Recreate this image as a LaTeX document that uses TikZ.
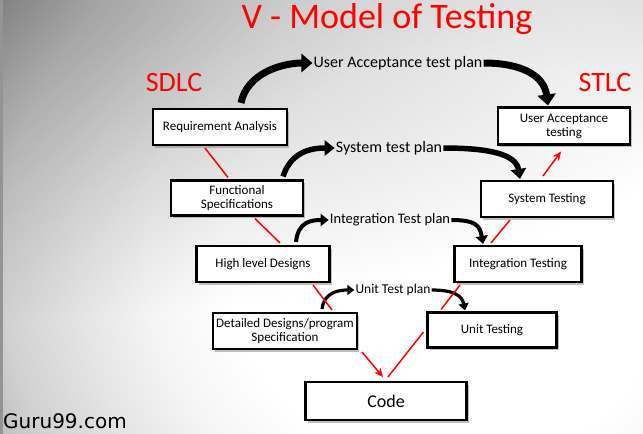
\documentclass[tikz,border=0pt]{standalone}
\usepackage{fontspec}
\setmainfont{Carlito}
\newfontfamily\gurufont{DejaVu Sans}
\usetikzlibrary{arrows.meta,shadows,fadings}
\tikzfading[name=cornerfade, inner color=transparent!0, outer color=transparent!100]
\pgfdeclareradialshading{vignette}{\pgfpoint{0bp}{0bp}}{color(0bp)=(white); color(20bp)=(white); color(27bp)=(black!4); color(33bp)=(black!10); color(40bp)=(black!18); color(46bp)=(black!30); color(50bp)=(black!40)}
\begin{document}
\begin{tikzpicture}[x=1pt,y=-1pt,
  box/.style={draw=black, line width=2.1pt, fill=white, align=center, inner sep=2pt,
    font=\fontsize{13}{14}\selectfont,
    drop shadow={shadow xshift=2pt, shadow yshift=-2.5pt, fill=black!45, opacity=0.55}},
  plan/.style={inner sep=1pt, font=\fontsize{16}{18}\selectfont},
  redlab/.style={text=red, font=\fontsize{28}{30}\selectfont},
  redline/.style={draw=red, line width=1.5pt},
  redarrow/.style={redline, -{Stealth[length=9pt,width=8pt]}},
  bigarrow/.style={draw=black, line width=7pt, -{Triangle[length=11pt,width=18pt]}},
  midarrow/.style={draw=black, line width=5.5pt, -{Triangle[length=10pt,width=15pt]}},
  smallarrow/.style={draw=black, line width=4pt, -{Triangle[length=8pt,width=12pt]}},
  tinyarrow/.style={draw=black, line width=3.2pt, -{Triangle[length=7pt,width=10pt]}}]
\useasboundingbox (0,0) rectangle (643,434);
% background
\begin{scope}
\clip (0,0) rectangle (643,434);
\fill[black!40] (0,0) rectangle (643,434);
\begin{pgfscope}
\pgftransformshift{\pgfpoint{450pt}{-260pt}}
\pgftransformxscale{11.16}
\pgftransformyscale{10.36}
\pgflowlevelsynccm
\pgfuseshading{vignette}
\end{pgfscope}
\fill[black, path fading=cornerfade, fill opacity=0.24] (-800,-320) rectangle (800,320);
\fill[black!42] (0,0) rectangle (2.5,434);
\end{scope}

% title and labels
\node[text=red, font=\fontsize{36}{38}\selectfont] (title) at (387,19) {V - Model of Testing};
\node[redlab] (sdlc) at (174,83) {SDLC};
\node[redlab] (stlc) at (605,83) {STLC};
\node[font=\gurufont\fontsize{20}{22}\selectfont, anchor=west, inner sep=0pt] (guru) at (3,421) {Guru99.com};

% boxes
\node[box, minimum width=134pt, minimum height=36pt] (ra) at (220,127) {Requirement Analysis};
\node[box, minimum width=132pt, minimum height=37pt] (uat) at (564,126) {User Acceptance\\testing};
\node[box, minimum width=132pt, minimum height=35pt] (fs) at (237,198) {Functional\\Specifications};
\node[box, minimum width=132pt, minimum height=36pt] (st) at (547,199) {System Testing};
\node[box, minimum width=133pt, minimum height=36pt] (hld) at (263,264) {High level Designs};
\node[box, minimum width=127pt, minimum height=36pt] (it) at (518,264) {Integration Testing};
\node[box, minimum width=144pt, minimum height=36pt] (dd) at (285,331) {Detailed Designs/program\\Specification};
\node[box, minimum width=129pt, minimum height=35pt] (ut) at (492,330) {Unit Testing};
\node[box, minimum width=161pt, minimum height=38pt, font=\fontsize{18}{20}\selectfont] (code) at (386,401) {Code};

% plan labels
\node[plan] (uatp) at (398,63) {User Acceptance test plan};
\node[plan] (stp) at (389,148) {System test plan};
\node[plan, font=\fontsize{14.5}{16}\selectfont] (itp) at (390,220) {Integration Test plan};
\node[plan, font=\fontsize{13.5}{15}\selectfont] (utp) at (393,290) {Unit Test plan};

% black curved arrows
\draw[bigarrow] ([xshift=21pt,yshift=5pt]ra.north) .. controls +(6,-30) and +(-30,0) .. (uatp.west);
\draw[bigarrow] (uatp.east) .. controls +(38,0) and +(-4,-30) .. ([xshift=-16pt,yshift=1pt]uat.north);
\draw[midarrow] ([xshift=46pt,yshift=3pt]fs.north) .. controls +(8,-24) and +(-25,0) .. (stp.west);
\draw[midarrow] (stp.east) .. controls +(45,0) and +(-4,-25) .. ([xshift=-27pt,yshift=1pt]st.north);
\draw[smallarrow] ([xshift=33pt,yshift=3pt]hld.north) .. controls +(2,-20) and +(-18,0) .. (itp.west);
\draw[smallarrow] (itp.east) .. controls +(25,0) and +(-3,-18) .. ([xshift=-35pt,yshift=1pt]it.north);
\draw[tinyarrow] ([xshift=37pt,yshift=3pt]dd.north) .. controls +(2,-17) and +(-15,0) .. (utp.west);
\draw[tinyarrow] (utp.east) .. controls +(22,0) and +(-3,-15) .. ([xshift=-27pt,yshift=1pt]ut.north);

% red V lines
\draw[redline] ([xshift=-15pt,yshift=-2pt]ra.south) -- ([xshift=-9pt,yshift=2pt]fs.north);
\draw[redline] ([xshift=18pt,yshift=-2pt]fs.south) -- ([xshift=17pt,yshift=2pt]hld.north);
\draw[redline] ([xshift=50pt,yshift=-2pt]hld.south) -- ([xshift=47pt,yshift=2pt]dd.north);
\draw[redarrow] ([xshift=77pt,yshift=-2pt]dd.south) -- ([xshift=-3pt,yshift=4pt]code.north);
\draw[redline] ([xshift=2pt,yshift=4pt]code.north) -- ([xshift=-3pt,yshift=-2pt]ut.west);
\draw[redline] ([xshift=-51pt,yshift=2pt]ut.north) -- ([xshift=-58pt,yshift=-2pt]it.south);
\draw[redline] ([xshift=-27pt,yshift=2pt]it.north) -- ([xshift=-37pt,yshift=-2pt]st.south);
\draw[redarrow] ([xshift=-4pt,yshift=4pt]st.north) -- ([xshift=-3pt,yshift=-6pt]uat.south);
\end{tikzpicture}
\end{document}
